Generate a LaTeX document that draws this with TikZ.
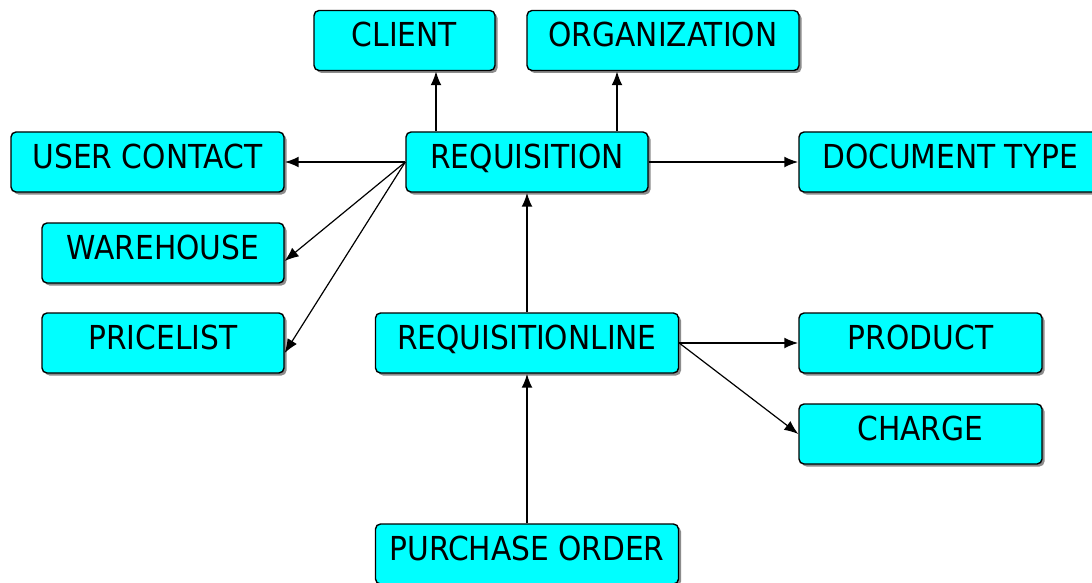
\documentclass[tikz,border=0pt]{standalone}
\usepackage{fontspec}
\setmainfont{DejaVu Sans Condensed}
\usetikzlibrary{arrows.meta,shadows}
\definecolor{boxfill}{RGB}{0,255,255}
\tikzset{
  entity/.style={draw=black, line width=1.4pt, fill=boxfill, rounded corners=5pt,
    minimum height=60pt, inner sep=0pt, text height=24pt, text depth=12pt,
    font=\fontsize{33}{40}\selectfont,
    drop shadow={shadow xshift=2.5pt, shadow yshift=-2.5pt, fill=black!45, opacity=1}},
  link/.style={draw=black, line width=2pt, -{Latex[length=14pt,width=11pt]}},
  thinlink/.style={draw=black, line width=1.2pt, -{Latex[length=14pt,width=11pt]}}
}
\begin{document}
\begin{tikzpicture}[x=1pt,y=-1pt]
\clip (0,0) rectangle (1092,583);
\fill[white] (0,0) rectangle (1092,583);

% entities
\node[entity, minimum width=181pt] (client) at (404.5,40.5) {CLIENT};
\node[entity, minimum width=272pt] (org) at (663,40.5) {ORGANIZATION};
\node[entity, minimum width=273pt] (user) at (147.5,162) {USER CONTACT};
\node[entity, minimum width=242pt] (req) at (527,162) {REQUISITION};
\node[entity, minimum width=302pt] (doc) at (950,162) {DOCUMENT TYPE};
\node[entity, minimum width=242pt] (wh) at (163,253) {WAREHOUSE};
\node[entity, minimum width=242pt] (pl) at (163,343) {PRICELIST};
\node[entity, minimum width=303pt] (rl) at (527,343) {REQUISITIONLINE};
\node[entity, minimum width=243pt] (prod) at (920.5,343) {PRODUCT};
\node[entity, minimum width=243pt] (charge) at (920.5,434) {CHARGE};
\node[entity, minimum width=303pt] (po) at (527,554) {PURCHASE ORDER};

% references
\draw[link] ([xshift=-91pt]req.north) -- ([xshift=-91pt]req.north |- client.south);
\draw[link] ([xshift=90pt]req.north) -- ([xshift=90pt]req.north |- org.south);
\draw[link] (req.west) -- (user.east);
\draw[link] (req.east) -- (doc.west);
\draw[thinlink] (req.west) -- ([yshift=-8pt]wh.east);
\draw[thinlink] (req.west) -- ([yshift=-10pt]pl.east);
\draw[link] (rl.north) -- (req.south);
\draw[link] (po.north) -- (rl.south);
\draw[link] (rl.east) -- (prod.west);
\draw[thinlink] (rl.east) -- (charge.west);
\end{tikzpicture}
\end{document}
